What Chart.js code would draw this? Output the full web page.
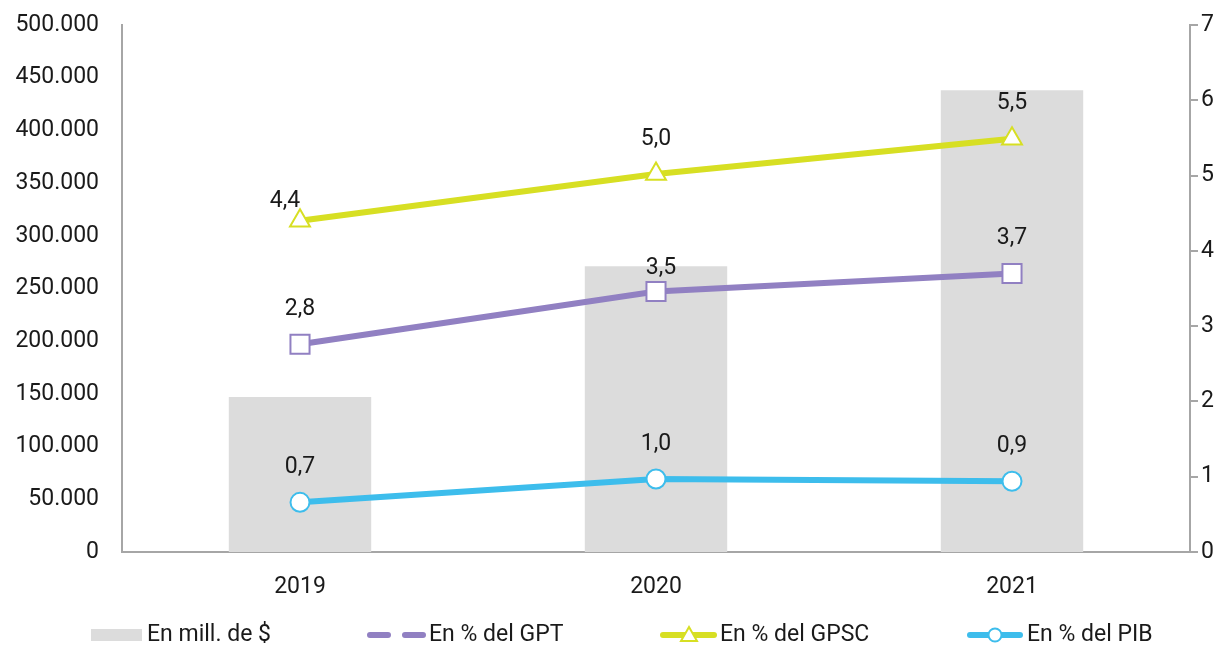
<!DOCTYPE html>
<html>
<head>
<meta charset="utf-8">
<script src="https://cdn.jsdelivr.net/npm/chart.js@4"></script>
<style>
    html, body { margin: 0; padding: 0; background: #fff; }
    #wrap { width: 1227px; height: 645px; }
</style>
</head>
<body>
<div id="wrap"><canvas id="myChart" width="1227" height="645"></canvas></div>
<script>
// Datos
const YEARS = ['2019', '2020', '2021'];
const MILL_PESOS = [147000, 271000, 438000];
const PCT_GPT = [2.76, 3.46, 3.70];
const PCT_GPSC = [4.40, 5.02, 5.49];
const PCT_PIB = [0.66, 0.97, 0.94];

// Colores y fuente
const COLORS = {
    bar: '#dcdcdc',
    gpt: '#9180c2',
    gpsc: '#d7df23',
    pib: '#3dbdec',
    axis: '#a6a6a6',
    text: '#1a1a1a'
};
const FONT = { family: 'Roboto', size: 23 };

function fmt(v) {
    return v.toFixed(1).replace('.', ',');
}

function fmtMiles(v) {
    return v.toLocaleString('es-AR');
}

// Etiquetas de valores sobre los puntos
const valueLabels = {
    id: 'valueLabels',
    afterDatasetsDraw(chart, args, opts) {
        const ctx = chart.ctx;
        ctx.save();
        ctx.font = FONT.size + 'px ' + FONT.family;
        ctx.fillStyle = COLORS.text;
        ctx.textAlign = 'center';
        ctx.textBaseline = 'middle';
        chart.data.datasets.forEach((ds, i) => {
            if (ds.type !== 'line') return;
            const meta = chart.getDatasetMeta(i);
            meta.data.forEach((pt, j) => {
                const shift = (opts.shifts[ds.key] || [])[j] || [0, 0];
                ctx.fillText(fmt(ds.data[j]), pt.x + shift[0], pt.y - 35 + shift[1]);
            });
        });
        ctx.restore();
    }
};

// Leyenda propia
const bottomLegend = {
    id: 'bottomLegend',
    afterDraw(chart) {
        const ctx = chart.ctx;
        const y = 635;
        ctx.save();
        ctx.font = FONT.size + 'px ' + FONT.family;
        ctx.fillStyle = COLORS.text;
        ctx.textBaseline = 'middle';
        ctx.textAlign = 'left';

        // barras
        ctx.fillStyle = COLORS.bar;
        ctx.fillRect(91, y - 6, 51, 12);
        ctx.fillStyle = COLORS.text;
        ctx.fillText('En mill. de $', 147, y);

        ctx.lineCap = 'round';
        ctx.lineWidth = 6;

        // GPT
        ctx.strokeStyle = COLORS.gpt;
        ctx.beginPath();
        ctx.moveTo(370, y); ctx.lineTo(388, y);
        ctx.moveTo(405, y); ctx.lineTo(423, y);
        ctx.stroke();
        ctx.fillText('En % del GPT', 429, y);

        // GPSC
        ctx.strokeStyle = COLORS.gpsc;
        ctx.beginPath();
        ctx.moveTo(663, y); ctx.lineTo(714, y);
        ctx.stroke();
        ctx.lineWidth = 2;
        ctx.fillStyle = '#fff';
        ctx.beginPath();
        ctx.moveTo(689, y - 8);
        ctx.lineTo(697, y + 6);
        ctx.lineTo(681, y + 6);
        ctx.closePath();
        ctx.fill(); ctx.stroke();
        ctx.fillStyle = COLORS.text;
        ctx.fillText('En % del GPSC', 720, y);

        // PIB
        ctx.lineWidth = 6;
        ctx.strokeStyle = COLORS.pib;
        ctx.beginPath();
        ctx.moveTo(970, y); ctx.lineTo(1020, y);
        ctx.stroke();
        ctx.lineWidth = 2;
        ctx.fillStyle = '#fff';
        ctx.beginPath();
        ctx.arc(995, y, 6.5, 0, Math.PI * 2);
        ctx.fill(); ctx.stroke();
        ctx.fillStyle = COLORS.text;
        ctx.fillText('En % del PIB', 1027, y);
        ctx.restore();
    }
};

function lineSet(label, key, data, color, style, radius) {
    return {
        type: 'line',
        key: key,
        label: label,
        data: data,
        yAxisID: 'y2',
        borderColor: color,
        borderWidth: 6,
        pointStyle: style,
        pointRadius: radius,
        pointHoverRadius: radius,
        pointBackgroundColor: '#fff',
        pointBorderColor: color,
        pointBorderWidth: 2,
        tension: 0,
        order: 1
    };
}

const chartData = {
    labels: YEARS,
    datasets: [
        lineSet('En % del GPSC', 'gpsc', PCT_GPSC, COLORS.gpsc, 'triangle', 11.5),
        lineSet('En % del GPT', 'gpt', PCT_GPT, COLORS.gpt, 'rect', 13.5),
        lineSet('En % del PIB', 'pib', PCT_PIB, COLORS.pib, 'circle', 9.5),
        {
            type: 'bar',
            label: 'En mill. de $',
            data: MILL_PESOS,
            yAxisID: 'y',
            backgroundColor: COLORS.bar,
            categoryPercentage: 1,
            barPercentage: 0.4,
            order: 2
        }
    ]
};

// ancho fijo del eje y sin relleno extra arriba/abajo
function fixWidth(w) {
    return s => {
        s.width = w;
        s.paddingTop = 0;
        s.paddingBottom = 0;
    };
}

const chartOptions = {
    responsive: false,
    animation: false,
    layout: { padding: { top: 25, bottom: 0, left: 0, right: 0 } },
    plugins: {
        legend: { display: false },
        tooltip: { enabled: false },
        valueLabels: {
            shifts: {
                gpsc: [[-15, 16], [0, 0], [0, 0]],
                gpt: [[0, 0], [5, 12], [0, 0]]
            }
        }
    },
    scales: {
        x: {
            offset: true,
            grid: { display: false, drawTicks: false },
            border: { display: true, color: COLORS.axis, width: 2 },
            ticks: { color: COLORS.text, font: FONT, padding: 21 },
            afterFit: s => { s.height = 93; }
        },
        y: {
            position: 'left',
            min: 0,
            max: 500000,
            grid: { display: false, drawTicks: false },
            border: { display: true, color: COLORS.axis, width: 2 },
            ticks: { stepSize: 50000, color: COLORS.text, font: FONT, padding: 23, callback: v => fmtMiles(v) },
            afterFit: fixWidth(122)
        },
        y2: {
            position: 'right',
            min: 0,
            max: 7,
            grid: { drawOnChartArea: false, drawTicks: true, tickLength: 8, color: COLORS.axis, lineWidth: 2 },
            border: { display: true, color: COLORS.axis, width: 2 },
            ticks: { stepSize: 1, color: COLORS.text, font: FONT, padding: 3 },
            afterFit: fixWidth(37)
        }
    }
};

const chart = new Chart(document.getElementById('myChart'), {
    data: chartData,
    options: chartOptions,
    plugins: [valueLabels, bottomLegend]
});
</script>
</body>
</html>
